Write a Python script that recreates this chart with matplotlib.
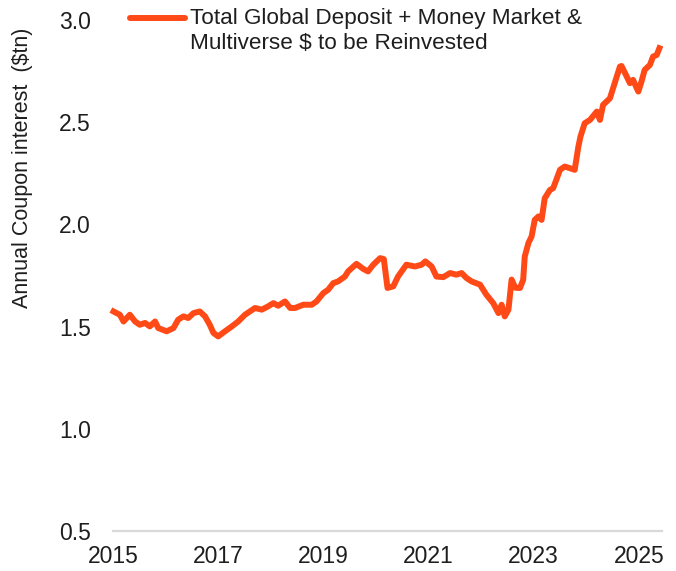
import matplotlib
matplotlib.use('Agg')
import matplotlib.pyplot as plt
from matplotlib.lines import Line2D

plt.rcParams['font.family'] = ['Liberation Sans', 'DejaVu Sans']

# weekly-ish series (year, $tn)
years = [2015.01, 2015.13, 2015.20, 2015.32, 2015.42, 2015.51, 2015.61, 2015.70, 2015.80, 2015.86,
         2016.02, 2016.15, 2016.24, 2016.34, 2016.43, 2016.53, 2016.65, 2016.75, 2016.84, 2016.91,
         2017.00, 2017.13, 2017.26, 2017.38, 2017.51, 2017.70, 2017.83, 2017.95, 2018.05, 2018.14,
         2018.27, 2018.37, 2018.46, 2018.62, 2018.78, 2018.87, 2019.00, 2019.09, 2019.19, 2019.28,
         2019.41, 2019.47, 2019.63, 2019.76, 2019.85, 2019.95, 2020.08, 2020.15, 2020.22, 2020.33,
         2020.42, 2020.58, 2020.74, 2020.87, 2020.94, 2021.06, 2021.15, 2021.28, 2021.41, 2021.53,
         2021.63, 2021.72, 2021.82, 2021.98, 2022.10, 2022.23, 2022.33, 2022.39, 2022.45, 2022.52,
         2022.58, 2022.65, 2022.74, 2022.80, 2022.83, 2022.90, 2022.96, 2023.02, 2023.09, 2023.15,
         2023.21, 2023.31, 2023.37, 2023.43, 2023.50, 2023.59, 2023.69, 2023.78, 2023.85, 2023.89,
         2023.97, 2024.07, 2024.20, 2024.26, 2024.32, 2024.45, 2024.54, 2024.64, 2024.67, 2024.77,
         2024.83, 2024.89, 2024.96, 2024.99, 2025.05, 2025.11, 2025.21, 2025.27, 2025.34, 2025.39]
values = [1.574, 1.558, 1.525, 1.558, 1.525, 1.509, 1.518, 1.501, 1.525, 1.493,
          1.477, 1.493, 1.534, 1.550, 1.542, 1.566, 1.574, 1.550, 1.509, 1.469,
          1.452, 1.477, 1.501, 1.525, 1.558, 1.591, 1.583, 1.599, 1.615, 1.602,
          1.623, 1.591, 1.591, 1.607, 1.607, 1.623, 1.664, 1.680, 1.713, 1.721,
          1.745, 1.770, 1.807, 1.782, 1.770, 1.803, 1.835, 1.830, 1.689, 1.697,
          1.745, 1.803, 1.794, 1.803, 1.819, 1.794, 1.745, 1.742, 1.762, 1.754,
          1.762, 1.738, 1.721, 1.705, 1.656, 1.615, 1.566, 1.607, 1.550, 1.583,
          1.730, 1.690, 1.689, 1.729, 1.843, 1.909, 1.941, 2.022, 2.039, 2.022,
          2.128, 2.169, 2.177, 2.218, 2.267, 2.283, 2.275, 2.267, 2.381, 2.430,
          2.495, 2.511, 2.552, 2.511, 2.585, 2.617, 2.691, 2.772, 2.775, 2.723,
          2.691, 2.707, 2.666, 2.650, 2.699, 2.756, 2.780, 2.821, 2.829, 2.862]

xticks = [2015, 2017, 2019, 2021, 2023, 2025]
yticks = [0.5, 1.0, 1.5, 2.0, 2.5, 3.0]
series_label = 'Total Global Deposit + Money Market &\nMultiverse \\$ to be Reinvested'
orange = '#ff4a17'
ink = '#1e1e1e'

fig = plt.figure(figsize=(6.76, 5.71), dpi=100)
ax = fig.add_axes([113 / 676, 40 / 571, 549 / 676, 511 / 571])

ax.plot(years, values, color=orange, lw=4.3, solid_joinstyle='round', clip_on=False)

ax.set_xlim(2015.0, 2025.44)
ax.set_ylim(0.5, 3.0)
ax.set_xticks(xticks)
ax.set_xticklabels([str(y) for y in xticks])
ax.set_yticks(yticks)
ax.set_yticklabels(['%.1f' % v for v in yticks])
ax.tick_params(length=0, labelsize=16.5, labelcolor=ink)
ax.tick_params(axis='y', pad=16)
ax.tick_params(axis='x', pad=10)

for s in ['top', 'right', 'left']:
    ax.spines[s].set_visible(False)
ax.spines['bottom'].set_color('#d9d9d9')
ax.spines['bottom'].set_linewidth(1.6)

ax.set_ylabel('Annual Coupon interest  (\\$tn)', fontsize=15.5, color=ink)
ax.yaxis.set_label_coords(-0.145, 0.71)

# legend drawn by hand so the sample sits on the first text line
fig.add_artist(Line2D([130 / 676, 185 / 676], [1 - 18 / 571, 1 - 18 / 571],
                      color=orange, lw=4.3, solid_capstyle='round'))
fig.text(190 / 676, 1 - 8 / 571, series_label, fontsize=16.2, color=ink,
         va='top', ha='left', linespacing=1.25)

fig.savefig('out.png', dpi=100)
